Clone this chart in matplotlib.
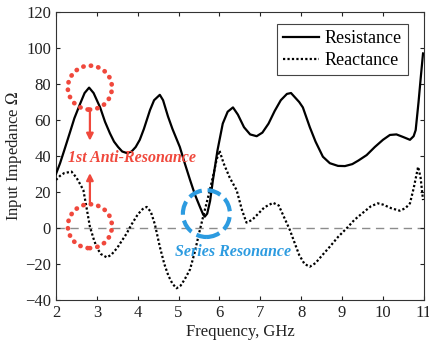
"""Input impedance (resistance / reactance) vs. frequency with resonance callouts."""

import matplotlib
matplotlib.use("Agg")
import matplotlib.pyplot as plt
from matplotlib.patches import Ellipse

plt.rcParams["font.family"] = ["Liberation Serif", "DejaVu Serif"]
plt.rcParams["mathtext.fontset"] = "stix"

# Frequency (GHz) and resistance (Ohm)
res_freq = [2.00, 2.10, 2.20, 2.34, 2.45, 2.59, 2.70, 2.81, 2.92, 3.00, 3.08, 3.20,
            3.32, 3.42, 3.52, 3.62, 3.74, 3.85, 3.95, 4.05, 4.15, 4.30, 4.40, 4.54,
            4.62, 4.74, 4.85, 5.03, 5.15, 5.28, 5.40, 5.52, 5.60, 5.64, 5.70, 5.77,
            5.84, 5.95, 6.08, 6.20, 6.33, 6.45, 6.60, 6.75, 6.91, 7.05, 7.20, 7.35,
            7.50, 7.65, 7.75, 7.85, 7.95, 8.04, 8.21, 8.35, 8.53, 8.70, 8.90, 9.07,
            9.25, 9.40, 9.60, 9.80, 10.00, 10.17, 10.33, 10.50, 10.66, 10.75, 10.80,
            10.87, 10.93, 10.98]
resistance = [30, 36, 43, 53, 61, 69, 75, 78, 75, 71, 67, 59,
              52.6, 48, 45, 42.5, 41.6, 42.5, 45, 49, 55, 65.5, 71, 74,
              71, 62, 55, 45, 36, 26.7, 18.5, 11.8, 7.5, 6.3, 8, 15,
              26.7, 43, 58, 64.6, 67, 63, 56, 52, 51, 53, 58, 65,
              71, 74.5, 75, 72.5, 70, 67, 56, 48, 39.6, 36, 34.5, 34.4,
              35.5, 37.5, 40.5, 45, 49, 51.7, 52, 50.5, 49, 51, 54.4,
              70, 85, 97]

# Frequency (GHz) and reactance (Ohm)
rea_freq = [2.00, 2.10, 2.20, 2.38, 2.50, 2.60, 2.67, 2.75, 2.83, 2.92, 3.00, 3.10,
            3.24, 3.35, 3.50, 3.60, 3.73, 3.85, 4.00, 4.12, 4.22, 4.32, 4.42, 4.54,
            4.65, 4.75, 4.85, 4.95, 5.05, 5.15, 5.28, 5.40, 5.50, 5.60, 5.72, 5.84,
            5.93, 6.00, 6.10, 6.25, 6.42, 6.55, 6.66, 6.80, 6.95, 7.10, 7.31, 7.45,
            7.60, 7.72, 7.85, 7.95, 8.08, 8.21, 8.35, 8.50, 8.70, 8.90, 9.14, 9.30,
            9.50, 9.70, 9.87, 10.00, 10.20, 10.41, 10.55, 10.66, 10.75, 10.86, 10.92,
            10.98]
reactance = [26.7, 29, 30.5, 31.3, 28, 24, 21, 11, 0.7, -6, -11, -14.5,
             -16.3, -15, -11, -7.5, -3, 2, 7.5, 10.5, 11.7, 9, 2, -10.4,
             -20, -26.5, -31, -33.5, -32, -28.5, -23, -13, -3, 6.3, 17, 28.5,
             38, 43, 36, 28, 21, 10, 3, 4.5, 8, 11.5, 14, 12.5,
             5, -1, -9, -15, -20, -21.5, -19.5, -15.5, -10.4, -5, 0.5, 4.5,
             8.3, 12, 13.7, 13, 11, 9.6, 11, 13.7, 22, 34, 28,
             15.5]

x_ticks = [2, 3, 4, 5, 6, 7, 8, 9, 10, 11]
y_ticks = [-40, -20, 0, 20, 40, 60, 80, 100, 120]

RED = "#f0483c"
BLUE = "#2c9be0"

fig = plt.figure(figsize=(4.29, 3.44), dpi=100)
ax = fig.add_axes([0.1305, 0.128, 0.8575, 0.837])

ax.axhline(0, color="#8c8c8c", linestyle=(0, (6, 4)), linewidth=1.0, zorder=1)
ax.plot(res_freq, resistance, color="black", linewidth=1.6, label="Resistance", zorder=3)
ax.plot(rea_freq, reactance, color="black", linestyle=(0, (1, 1)), linewidth=1.6,
        label="Reactance", zorder=3)

# anti-resonance markers: dotted circles with arrows pointing at the label
for cy in (78, 1):
    circ = Ellipse((2.83, cy), 1.08, 24.4, fill=False, edgecolor=RED,
                   linewidth=3.4, linestyle=(0, (0.05, 1.55)), zorder=4)
    circ.set_capstyle("round")
    ax.add_patch(circ)
ax.annotate("", xy=(2.83, 48.5), xytext=(2.83, 65.5),
            arrowprops=dict(arrowstyle="-|>", color=RED, lw=1.6, mutation_scale=10,
                            shrinkA=0, shrinkB=0))
ax.annotate("", xy=(2.83, 30.5), xytext=(2.83, 13.3),
            arrowprops=dict(arrowstyle="-|>", color=RED, lw=1.6, mutation_scale=10,
                            shrinkA=0, shrinkB=0))
ax.text(2.29, 39, "1st Anti-Resonance", color=RED, fontsize=11.5, fontweight="bold",
        fontstyle="italic", ha="left", va="center", zorder=5)

# series resonance marker
ax.add_patch(Ellipse((5.68, 8), 1.15, 26, fill=False, edgecolor=BLUE, linewidth=3.0,
                     linestyle=(0, (3.3, 1.4)), zorder=4))
ax.text(4.91, -13.3, "Series Resonance", color=BLUE, fontsize=11.5, fontweight="bold",
        fontstyle="italic", ha="left", va="center", zorder=5)

ax.set_xlim(2, 11)
ax.set_ylim(-40, 120)
ax.set_xticks(x_ticks)
ax.set_yticks(y_ticks)
ax.tick_params(direction="in", top=True, right=True, length=3, labelsize=12,
               colors="#222222")
for s in ax.spines.values():
    s.set_linewidth(0.8)
    s.set_color("#333333")

ax.set_xlabel("Frequency, GHz", fontsize=12, color="#222222", labelpad=2)
ax.set_ylabel("Input Impedance $\\Omega$", fontsize=12, color="#222222", labelpad=1)

leg = ax.legend(loc="upper right", bbox_to_anchor=(0.9565, 0.958), fontsize=13,
                handlelength=2.0, handletextpad=0.3, borderpad=0.35, labelspacing=0.25,
                fancybox=False, framealpha=1, borderaxespad=0)
leg.get_frame().set_edgecolor("#444444")
leg.get_frame().set_linewidth(0.8)

fig.savefig("out.png", dpi=100)
